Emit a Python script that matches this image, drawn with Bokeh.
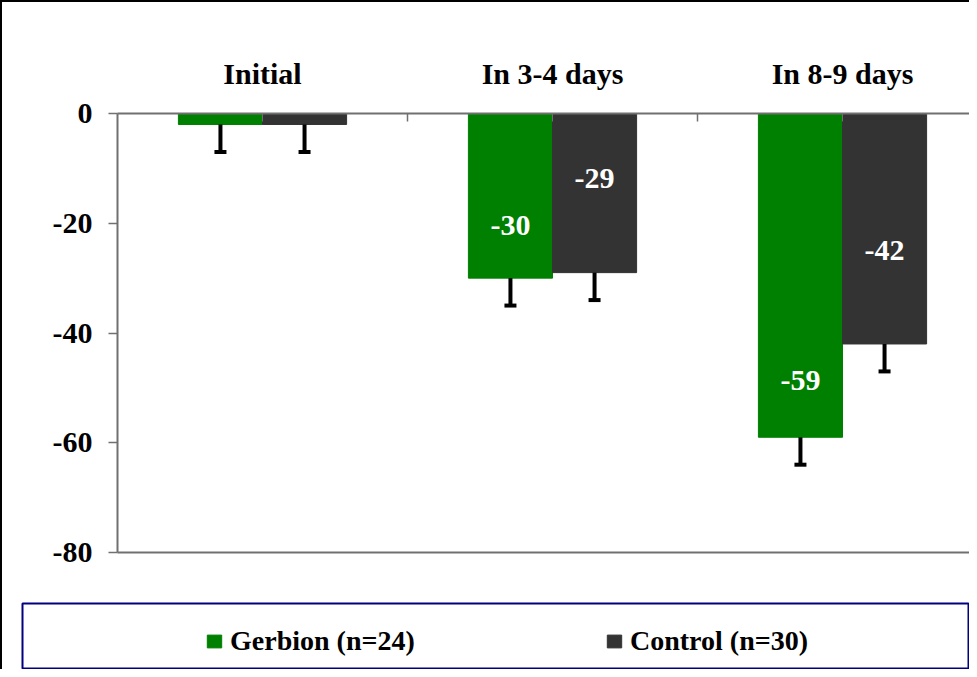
from bokeh.plotting import figure
from bokeh.layouts import column
from bokeh.models import (Range1d, FixedTicker, LinearAxis, Whisker, TeeHead,
                          ColumnDataSource, Legend, LegendItem)
from bokeh.core.properties import value
from bokeh.embed import file_html
from bokeh.resources import INLINE

# ---- data ----
categories = ["Initial", "In 3-4 days", "In 8-9 days"]
gerbion = [-2, -30, -59]
control = [-2, -29, -42]
gerbion_err = [5, 5, 5]
control_err = [5, 5, 5]
gerbion_labels = ["", "-30", "-59"]
control_labels = ["", "-29", "-42"]
y_ticks = [-80, -60, -40, -20, 0]
series_names = ["Gerbion (n=24)", "Control (n=30)"]

# ---- style / layout ----
GREEN = "#008000"
GRAY = "#333333"
AXIS = "#707070"
FONT = "Liberation Serif"
BAR_W = 0.29
label_y_gerbion = [0, -20.4, -48.7]
label_y_control = [0, -11.9, -25.0]

n = len(categories)
centers = [i + 0.5 for i in range(n)]
xg = [c - BAR_W / 2 for c in centers]
xc = [c + BAR_W / 2 for c in centers]

W = 967
p = figure(width=W, height=588, output_backend="svg", toolbar_location=None,
           x_range=Range1d(0, (W - 115) / 290), y_range=Range1d(-80, 0),
           x_axis_location="above", min_border_left=115, min_border_top=111,
           min_border_right=0, min_border_bottom=588 - 111 - 439)
p.outline_line_color = None
p.xgrid.visible = False
p.ygrid.visible = False
p.background_fill_color = "white"
p.border_fill_color = "white"
p.frame_align = False

# top category axis
xa = p.xaxis[0]
xa.ticker = FixedTicker(ticks=centers, minor_ticks=[1, 2, 3])
xa.major_label_overrides = {c: cat for c, cat in zip(centers, categories)}
xa.axis_line_color = AXIS
xa.axis_line_width = 2
xa.major_tick_line_color = AXIS
xa.major_tick_in = 8
xa.major_tick_out = 0
xa.minor_tick_line_color = AXIS
xa.minor_tick_line_width = 1.5
xa.minor_tick_in = 8
xa.minor_tick_out = 0
xa.major_label_text_font = FONT
xa.major_label_text_font_style = "bold"
xa.major_label_text_font_size = "30px"
xa.major_label_text_color = "black"
xa.major_label_standoff = 24

ya = p.yaxis[0]
ya.ticker = FixedTicker(ticks=y_ticks)
ya.major_label_overrides = {t: str(t) for t in y_ticks}
ya.axis_line_color = AXIS
ya.axis_line_width = 2
ya.major_tick_line_color = AXIS
ya.major_tick_line_width = 1.5
ya.major_tick_out = 9
ya.major_tick_in = 0
ya.minor_tick_line_color = None
ya.major_label_text_font = FONT
ya.major_label_text_font_style = "bold"
ya.major_label_text_font_size = "30px"
ya.major_label_text_color = "black"
ya.major_label_standoff = 16

bottom_axis = LinearAxis(ticker=FixedTicker(ticks=[]), axis_line_color=AXIS,
                         axis_line_width=2, major_label_text_font_size="0px",
                         major_tick_line_color=None, minor_tick_line_color=None)
p.add_layout(bottom_axis, "below")

src_g = ColumnDataSource(dict(x=xg, v=gerbion, lo=[v - e for v, e in zip(gerbion, gerbion_err)],
                              lab=gerbion_labels, ly=label_y_gerbion))
src_c = ColumnDataSource(dict(x=xc, v=control, lo=[v - e for v, e in zip(control, control_err)],
                              lab=control_labels, ly=label_y_control))

rg = p.vbar(x="x", top=0, bottom="v", width=BAR_W, source=src_g,
            fill_color=GREEN, line_color=GREEN)
rc = p.vbar(x="x", top=0, bottom="v", width=BAR_W, source=src_c,
            fill_color=GRAY, line_color=GRAY)

for src in (src_g, src_c):
    w = Whisker(base="x", upper="v", lower="lo", source=src, dimension="height",
                line_color="black", line_width=4, upper_head=None,
                lower_head=TeeHead(size=12, line_width=4, line_color="black"))
    w.level = "overlay"
    p.add_layout(w)
    p.text(x="x", y="ly", text="lab", source=src, text_color="white",
           text_font=value(FONT), text_font_style="bold", text_font_size="30px",
           text_align="center", text_baseline="middle")

# ---- legend panel (navy-framed box) ----
LH = 669 - 2 - 588
pl = figure(width=W, height=LH, output_backend="svg", toolbar_location=None,
            x_range=Range1d(0, 1), y_range=Range1d(0, 1),
            min_border_left=20, min_border_top=13, min_border_right=0,
            min_border_bottom=0, x_axis_location=None, y_axis_location=None)
pl.frame_align = False
pl.xgrid.visible = False
pl.ygrid.visible = False
pl.outline_line_color = "#000080"
pl.outline_line_width = 2
pl.border_fill_color = "white"
# legend swatches: renderers kept outside the visible range
lg = pl.vbar(x=[5], top=[5], bottom=[4], width=0.1, fill_color=GREEN, line_color=GREEN)
lc = pl.vbar(x=[5], top=[5], bottom=[4], width=0.1, fill_color=GRAY, line_color=GRAY)

legend = Legend(items=[LegendItem(label=series_names[0], renderers=[lg]),
                       LegendItem(label=series_names[1], renderers=[lc])],
                orientation="horizontal", location=(183, 12),
                padding=0, margin=0, spacing=175, label_width=200,
                glyph_width=18, glyph_height=16, label_standoff=7,
                label_text_font=FONT, label_text_font_style="bold",
                label_text_font_size="28px", label_text_color="black",
                border_line_color=None, background_fill_alpha=0)
pl.add_layout(legend, "center")

layout = column(p, pl, spacing=0,
                styles={"border-left": "2px solid black", "border-top": "2px solid black"})

open("out.html", "w").write(file_html(layout, INLINE))
